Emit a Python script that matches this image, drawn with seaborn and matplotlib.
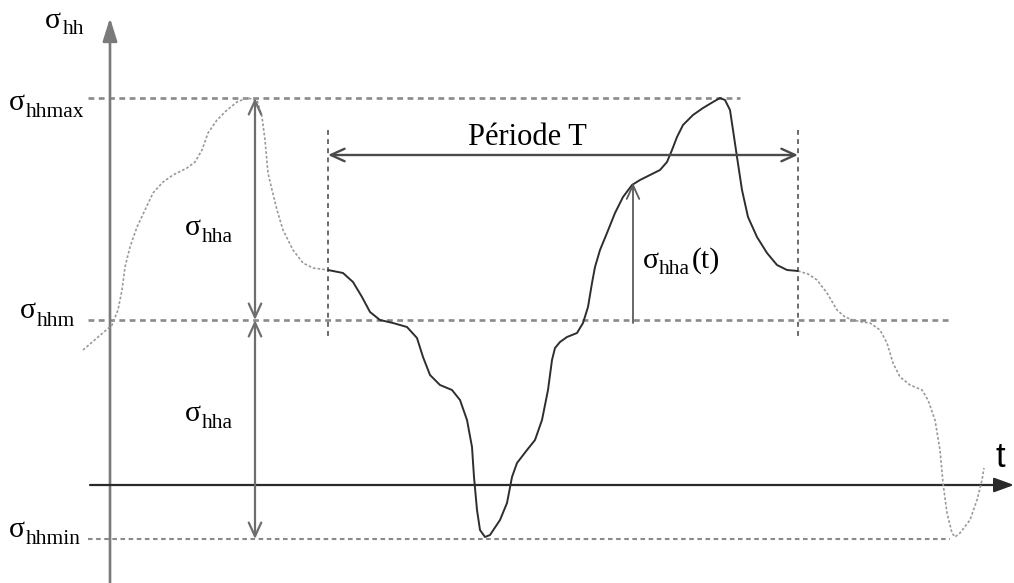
import matplotlib
matplotlib.use("Agg")
import matplotlib.pyplot as plt
import seaborn as sns

# ---------------- data (diagram units: x = time position, y = stress position, inverted) -------------
# Periodic stress signal, left (dotted) extension
left_t = [83, 112, 118, 122, 125, 130, 137, 145, 153, 163, 173, 187, 195, 202, 208, 217, 227, 237,
          247, 257, 262, 265, 268, 272, 277, 283, 293, 303, 313, 328]
left_s = [350, 325, 310, 290, 267, 247, 227, 210, 193, 182, 175, 168, 162, 150, 133, 120, 110, 102,
          98, 100, 117, 140, 173, 190, 210, 230, 250, 263, 268, 270]

# One period (solid)
period_t = [328, 343, 353, 362, 370, 380, 393, 407, 417, 423, 430, 440, 452, 460, 467, 472, 474,
            477, 480, 485, 490, 500, 507, 512, 517, 527, 535, 542, 548, 552, 555, 560, 567, 577,
            583, 588, 592, 595, 600, 607, 615, 623, 632, 640, 650, 660, 667, 672, 677, 683, 693,
            703, 713, 720, 725, 730, 733, 737, 742, 748, 757, 767, 777, 787, 798]
period_s = [270, 273, 282, 297, 312, 320, 323, 327, 338, 357, 375, 385, 390, 400, 420, 447, 477,
            510, 530, 537, 535, 520, 503, 477, 463, 450, 440, 420, 390, 360, 348, 342, 337, 333,
            323, 307, 283, 267, 250, 233, 213, 197, 185, 180, 175, 170, 162, 150, 137, 125, 115,
            108, 102, 98, 100, 110, 130, 157, 190, 217, 237, 253, 265, 270, 271]

# Right (dotted) extension
right_t = [798, 808, 817, 827, 837, 845, 853, 862, 870, 880, 887, 893, 900, 910, 922, 928, 935,
           940, 943, 947, 952, 955, 960, 970, 977, 982, 984]
right_s = [271, 274, 280, 293, 310, 317, 320, 322, 323, 330, 343, 363, 377, 385, 390, 400, 420,
           450, 483, 513, 533, 537, 533, 520, 500, 480, 468]

# Characteristic levels
level_max = 98
level_mean = 320
level_min = 539
level_zero = 485
period_start, period_end = 328, 798
t_sample = 633
s_sample = 183
amp_x = 255

# ---------------- figure ----------------
sns.set_theme(style="white")
plt.rcParams["font.family"] = ["Liberation Serif", "DejaVu Serif"]

W, H = 1014, 583
fig = plt.figure(figsize=(W / 100, H / 100), dpi=100)
ax = fig.add_axes([0, 0, 1, 1])
ax.set_xlim(0, W)
ax.set_ylim(H, 0)
ax.axis("off")

# dashed reference levels
ax.hlines(level_max, 88, 740, colors="#8a8a8a", lw=1.9, linestyles=(0, (2.2, 1.7)), zorder=1)
ax.hlines(level_mean, 88, 950, colors="#8a8a8a", lw=1.9, linestyles=(0, (2.2, 1.7)), zorder=1)
ax.hlines(level_min, 88, 950, colors="#8a8a8a", lw=1.5, linestyles=(0, (2.2, 1.7)), zorder=1)

# period bounds (vertical dashed)
ax.vlines([period_start, period_end], 130, 337, colors="#6a6a6a", lw=1.4,
          linestyles=(0, (2.5, 2.2)), zorder=1)

# axes with arrows
ax.annotate("", xy=(110, 18), xytext=(110, 583),
            arrowprops=dict(arrowstyle="-|>,head_length=0.7,head_width=0.22", mutation_scale=20,
                            color="#7a7a7a", lw=1.9, shrinkA=0, shrinkB=0), zorder=2)
ax.annotate("", xy=(1014, level_zero), xytext=(90, level_zero),
            arrowprops=dict(arrowstyle="-|>,head_length=0.6,head_width=0.22", mutation_scale=20,
                            color="#2a2a2a", lw=1.6, shrinkA=0, shrinkB=0), zorder=2)

# signal
sns.lineplot(x=left_t, y=left_s, sort=False, estimator=None, ax=ax, color="#9a9a9a",
             lw=1.2, linestyle=(0, (1.6, 1.2)), zorder=3)
sns.lineplot(x=right_t, y=right_s, sort=False, estimator=None, ax=ax, color="#9a9a9a",
             lw=1.2, linestyle=(0, (1.6, 1.2)), zorder=3)
sns.lineplot(x=period_t, y=period_s, sort=False, estimator=None, ax=ax, color="#2e2e2e",
             lw=1.4, zorder=4)
for ln in ax.lines:
    ln.set_solid_joinstyle("round")
    ln.set_dash_joinstyle("round")

# amplitude arrows
amp_style = dict(arrowstyle="<->,head_length=0.55,head_width=0.25", mutation_scale=18,
                 color="#6e6e6e", lw=1.6, shrinkA=0, shrinkB=0)
ax.annotate("", xy=(amp_x, level_max), xytext=(amp_x, level_mean), arrowprops=amp_style, zorder=5)
ax.annotate("", xy=(amp_x, level_min), xytext=(amp_x, level_mean), arrowprops=amp_style, zorder=5)

# period arrow
ax.annotate("", xy=(period_start, 155), xytext=(period_end, 155),
            arrowprops=dict(arrowstyle="<->,head_length=0.55,head_width=0.25", mutation_scale=18,
                            color="#4a4a4a", lw=1.7, shrinkA=0, shrinkB=0), zorder=5)

# instantaneous amplitude arrow
ax.annotate("", xy=(t_sample, s_sample), xytext=(t_sample, level_mean + 3),
            arrowprops=dict(arrowstyle="->,head_length=0.55,head_width=0.25", mutation_scale=18,
                            color="#5a5a5a", lw=1.3, shrinkA=0, shrinkB=0), zorder=5)

# ---------------- labels ----------------
BIG, SMALL = 21.5, 15.5


def sig(xs, ys, sub, xsub, ysub):
    ax.text(xs, ys, "σ", fontsize=BIG, ha="left", va="baseline", color="black")
    ax.text(xsub, ysub, sub, fontsize=SMALL, ha="left", va="baseline", color="black")


sig(45, 28, "hh", 63, 34)
sig(9, 110, "hhmax", 26, 117)
sig(20, 318, "hhm", 37, 326)
sig(185, 235, "hha", 202, 242)
sig(185, 421, "hha", 202, 428)
sig(9, 537, "hhmin", 26, 544)
sig(643, 268, "hha", 659, 274)
ax.text(692, 268, "(t)", fontsize=BIG, ha="left", va="baseline", color="black")

ax.text(527, 145, "Période T", fontsize=22, ha="center", va="baseline", color="black")
ax.text(996, 467, "t", fontsize=25, ha="left", va="baseline", color="black",
        family=["Liberation Sans", "DejaVu Sans"])

fig.savefig("out.png", dpi=100, facecolor="white")
